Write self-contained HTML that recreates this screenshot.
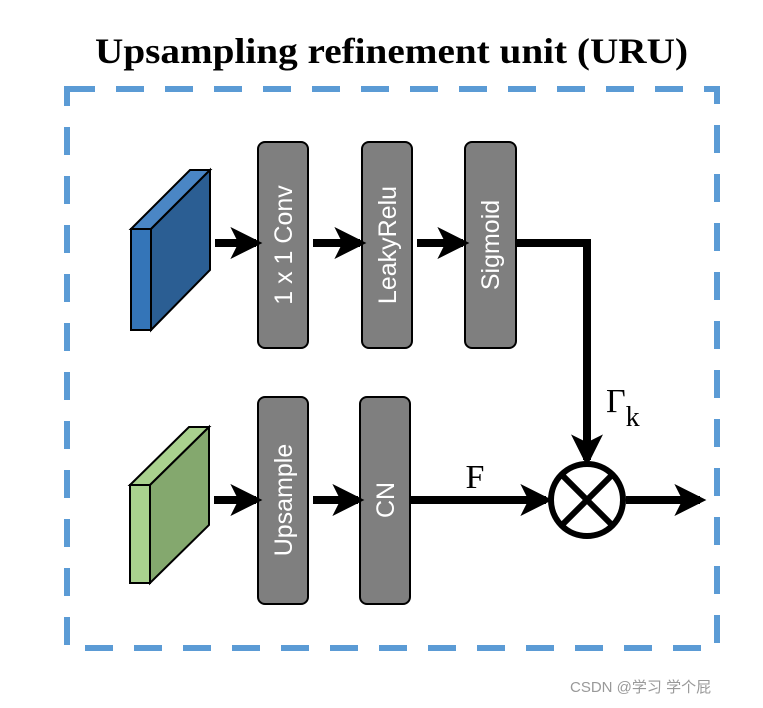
<!DOCTYPE html>
<html><head><meta charset="utf-8"><style>
body{margin:0;background:#fff;width:763px;height:703px;overflow:hidden}
</style></head><body>
<svg width="763" height="703" viewBox="0 0 763 703" xmlns="http://www.w3.org/2000/svg">
<defs>
<marker id="ah" markerWidth="4" markerHeight="4" refX="3.2" refY="2" orient="auto" markerUnits="strokeWidth">
<path d="M0,0 L4,2 L0,4 L1,2 Z" fill="#000"/>
</marker>
</defs>
<text x="95" y="63" font-family="Liberation Serif, serif" font-weight="bold" font-size="36" textLength="593" lengthAdjust="spacingAndGlyphs">Upsampling refinement unit (URU)</text>
<rect x="67" y="89" width="650" height="559" fill="none" stroke="#5B9BD5" stroke-width="6" stroke-dasharray="28,21"/>
<!-- blue block -->
<polygon points="131,229 190,170 210,170 151,229" fill="#4A86C5" stroke="#000" stroke-width="2"/>
<polygon points="151,229 210,170 210,270 151,330" fill="#2B5E93" stroke="#000" stroke-width="2"/>
<rect x="131" y="229" width="20" height="101" fill="#3475B8" stroke="#000" stroke-width="2"/>
<!-- green block -->
<polygon points="130,485 189,427 209,427 150,485" fill="#A9D18E" stroke="#000" stroke-width="2"/>
<polygon points="150,485 209,427 209,525 150,583" fill="#84A86E" stroke="#000" stroke-width="2"/>
<rect x="130" y="485" width="20" height="98" fill="#A9D18E" stroke="#000" stroke-width="2"/>
<!-- gray boxes -->
<g fill="#7F7F7F" stroke="#000" stroke-width="2">
<rect x="258" y="142" width="50" height="206" rx="7"/>
<rect x="362" y="142" width="50" height="206" rx="7"/>
<rect x="465" y="142" width="51" height="206" rx="7"/>
<rect x="258" y="397" width="50" height="207" rx="7"/>
<rect x="360" y="397" width="50" height="207" rx="7"/>
</g>
<g fill="#fff" font-family="Liberation Sans, sans-serif" font-size="25" text-anchor="middle">
<text transform="translate(292,245) rotate(-90)">1 x 1 Conv</text>
<text transform="translate(396,245) rotate(-90)">LeakyRelu</text>
<text transform="translate(499,245) rotate(-90)">Sigmoid</text>
<text transform="translate(292,500) rotate(-90)">Upsample</text>
<text transform="translate(394,500) rotate(-90)">CN</text>
</g>
<!-- arrows -->
<g stroke="#000" stroke-width="8" fill="none" marker-end="url(#ah)">
<line x1="215" y1="243" x2="256" y2="243"/>
<line x1="313" y1="243" x2="360" y2="243"/>
<line x1="417" y1="243" x2="463" y2="243"/>
<polyline points="516,243 587,243 587,460"/>
<line x1="214" y1="500" x2="256" y2="500"/>
<line x1="313" y1="500" x2="358" y2="500"/>
<line x1="410" y1="500" x2="546" y2="500"/>
<line x1="626" y1="500" x2="700" y2="500"/>
</g>
<circle cx="587" cy="500" r="36" fill="#fff" stroke="#000" stroke-width="6"/>
<line x1="562" y1="475" x2="612" y2="525" stroke="#000" stroke-width="6"/>
<line x1="612" y1="475" x2="562" y2="525" stroke="#000" stroke-width="6"/>
<text x="475" y="488" text-anchor="middle" font-family="Liberation Serif, serif" font-size="34">F</text>
<text x="606" y="412" font-family="Liberation Serif, serif" font-size="34">Γ<tspan font-size="28" dy="14">k</tspan></text>
<text x="570" y="692" font-family="Liberation Sans, 'Noto Sans CJK SC', sans-serif" font-size="15" fill="#999">CSDN @学习 学个屁</text>
</svg>
</body></html>
